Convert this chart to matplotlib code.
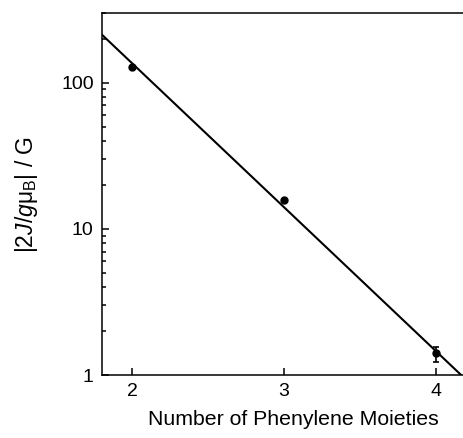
import numpy as np
import matplotlib.pyplot as plt
from matplotlib.ticker import LogLocator, NullFormatter, FixedLocator

plt.rcParams['font.family'] = ['Liberation Sans', 'DejaVu Sans']
plt.rcParams['mathtext.fontset'] = 'custom'
plt.rcParams['mathtext.rm'] = 'Liberation Sans'
plt.rcParams['mathtext.it'] = 'Liberation Sans:italic'

# data
n_phenylene = [2, 3, 4]
coupling = [128, 15.8, 1.42]
err_lo = [0, 0, 0.19]
err_hi = [0, 0, 0.13]

# fitted line, end points
fit_x = [1.8, 4.2]
fit_y = [213, 0.93]

fig = plt.figure(figsize=(4.64, 4.38), dpi=100)
ax = fig.add_axes([0.2198, 0.1438, 0.7845, 0.8265])

ax.plot(fit_x, fit_y, color='black', lw=1.5)
ax.errorbar(n_phenylene, coupling, yerr=[err_lo, err_hi], fmt='o', color='black',
            ms=5, elinewidth=1.2, capsize=2.5, capthick=1.2)

ax.set_yscale('log')
ax.set_xlim(1.8, 4.2)
ax.set_ylim(1, 300)
ax.xaxis.set_major_locator(FixedLocator([2, 3, 4]))
ax.set_xticklabels(['2', '3', '4'])
ax.yaxis.set_major_locator(FixedLocator([1, 10, 100]))
ax.set_yticklabels(['1', '10', '100'])
ax.yaxis.set_minor_locator(LogLocator(base=10, subs=np.arange(2, 10)))
ax.yaxis.set_minor_formatter(NullFormatter())

ax.tick_params(which='both', direction='in', labelsize=14, width=1.1)
ax.tick_params(which='major', length=5, pad=6)
ax.tick_params(which='minor', length=3)
for s in ax.spines.values():
    s.set_linewidth(1.1)

ax.set_xlabel('Number of Phenylene Moieties', fontsize=15.3, labelpad=7)
ax.xaxis.label.set_x(0.527)
ax.set_ylabel(r'|2$J$/$g$$\mathregular{\mu_B}$| / G', fontsize=16.5, labelpad=15)

fig.savefig('out.png', dpi=100)
